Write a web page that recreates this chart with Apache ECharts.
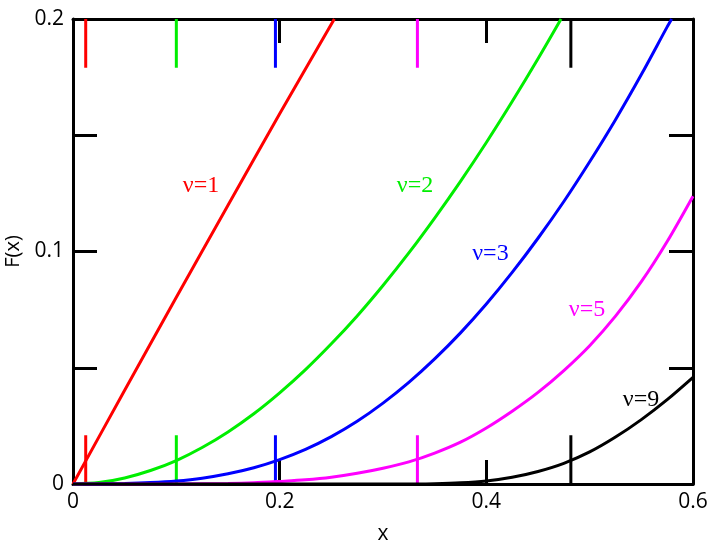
<!DOCTYPE html>
<html><head><meta charset="utf-8">
<script src="https://cdn.jsdelivr.net/npm/echarts@6/dist/echarts.min.js"></script>
<style>html,body{margin:0;padding:0;background:#fff}#c{width:720px;height:547px}</style>
</head><body><div id="c"></div>
<script>
// ---- data ----
const curveNames = ['ν=1', 'ν=2', 'ν=3', 'ν=5', 'ν=9'];
const nu1 = [[0,0],[0.05,0.0403],[0.1,0.0803],[0.15,0.1199],[0.2,0.1592],[0.2529,0.2]];
const nu2 = [[0,0],[0.025,0.0006],[0.05,0.0026],[0.075,0.0058],[0.1,0.0101],[0.125,0.0157],[0.15,0.0224],[0.175,0.0302],[0.2,0.0392],[0.225,0.0492],[0.25,0.0603],[0.275,0.0723],[0.3,0.0854],[0.325,0.0994],[0.35,0.1144],[0.375,0.1302],[0.4,0.1469],[0.425,0.1645],[0.45,0.1829],[0.4723,0.2]];
const nu3 = [[0,0],[0.025,0.00002],[0.05,0.0002],[0.075,0.0006],[0.1,0.0013],[0.125,0.0025],[0.15,0.0044],[0.175,0.007],[0.2,0.0105],[0.225,0.0149],[0.25,0.0204],[0.275,0.027],[0.3,0.0348],[0.325,0.0437],[0.35,0.0538],[0.375,0.065],[0.4,0.0774],[0.425,0.091],[0.45,0.1057],[0.475,0.1215],[0.5,0.1386],[0.525,0.1567],[0.55,0.1761],[0.575,0.1966],[0.5794,0.2]];
const nu5 = [[0,0],[0.1,0.00003],[0.15,0.0002],[0.175,0.0005],[0.2,0.0011],[0.225,0.0018],[0.25,0.0029],[0.275,0.0046],[0.3,0.0068],[0.325,0.0095],[0.35,0.0133],[0.375,0.018],[0.4,0.0241],[0.425,0.0313],[0.45,0.0394],[0.475,0.0488],[0.5,0.0595],[0.525,0.0722],[0.55,0.087],[0.575,0.1043],[0.6,0.1238]];
const nu9 = [[0,0],[0.3,0],[0.325,0.00004],[0.35,0.00015],[0.375,0.0005],[0.4,0.0013],[0.425,0.0029],[0.45,0.0054],[0.475,0.0089],[0.5,0.0138],[0.525,0.0202],[0.55,0.0277],[0.575,0.0363],[0.6,0.0459]];
const curves = [nu1, nu2, nu3, nu5, nu9];
const markX = [0.0123, 0.1, 0.1959, 0.3333, 0.4818];   // x where F(x)=0.01
const xTickLabels = ['0', '0.2', '0.4', '0.6'];
const yTickLabels = ['0', '0.1', '0.2'];

// ---- styles ----
const colors = ['#ff0000', '#00ee00', '#0000ff', '#ff00ff', '#000000'];
const labelAnchors = [[0.1239,0.1282],[0.331,0.1282],[0.404,0.099],[0.4974,0.0749],[0.5497,0.0362]];
const markLen = 0.021;
const YMAX = 0.2;

function fmt(v, list) {
  const s = (Math.round(v * 1000) / 1000).toString();
  return list.indexOf(s) >= 0 ? s : '';
}

const tickStyle = { show: true, inside: true, length: 24, lineStyle: { color: '#000', width: 3 } };
const lineStyleAx = { show: true, onZero: false, lineStyle: { color: '#000', width: 3 } };
const labelFont = { fontFamily: 'Open Sans', fontSize: 21, color: '#000' };

const series = [];
curves.forEach((d, i) => {
  series.push({
    type: 'line', name: curveNames[i], data: d, showSymbol: false, smooth: 0.3,
    lineStyle: { color: colors[i], width: 3 }, z: 3, animation: false,
    markPoint: {
      silent: true, symbol: 'circle', symbolSize: 0, animation: false,
      data: [{ coord: labelAnchors[i], value: curveNames[i],
        label: { show: true, position: 'inside', formatter: curveNames[i], color: colors[i],
          fontFamily: 'Liberation Serif', fontSize: 24 } }]
    }
  });
});
markX.forEach((x, i) => {
  series.push({ type: 'line', data: [[x, 0], [x, markLen]], showSymbol: false, animation: false,
    lineStyle: { color: colors[i], width: 3 }, z: 2 });
  series.push({ type: 'line', data: [[x, YMAX - markLen], [x, YMAX]], showSymbol: false, animation: false,
    lineStyle: { color: colors[i], width: 3 }, z: 2 });
});

const chart = echarts.init(document.getElementById('c'), null, { renderer: 'canvas' });
chart.setOption({
  animation: false,
  backgroundColor: '#fff',
  grid: { left: 73, right: 27, top: 19, bottom: 63, containLabel: false, outerBoundsMode: 'none' },
  xAxis: [
    { type: 'value', min: 0, max: 0.6, interval: 0.2, position: 'bottom',
      axisLine: lineStyleAx, axisTick: tickStyle, splitLine: { show: false },
      axisLabel: Object.assign({ margin: 8, formatter: v => fmt(v, xTickLabels) }, labelFont),
      name: 'x', nameLocation: 'middle', nameGap: 40,
      nameTextStyle: { fontFamily: 'Open Sans', fontSize: 21, color: '#000' } },
    { type: 'value', min: 0, max: 0.6, interval: 0.2, position: 'top',
      axisLine: lineStyleAx, axisTick: tickStyle, splitLine: { show: false }, axisLabel: { show: false } }
  ],
  yAxis: [
    { type: 'value', min: 0, max: 0.2, interval: 0.05, position: 'left',
      axisLine: lineStyleAx, axisTick: tickStyle, splitLine: { show: false },
      axisLabel: Object.assign({ margin: 9, formatter: v => fmt(v, yTickLabels) }, labelFont),
      name: 'F(x)', nameLocation: 'middle', nameGap: 48, nameRotate: 90,
      nameTextStyle: { fontFamily: 'Open Sans', fontSize: 20, color: '#000' } },
    { type: 'value', min: 0, max: 0.2, interval: 0.05, position: 'right',
      axisLine: lineStyleAx, axisTick: tickStyle, splitLine: { show: false }, axisLabel: { show: false } }
  ],
  series: series
});
</script>
</body></html>
